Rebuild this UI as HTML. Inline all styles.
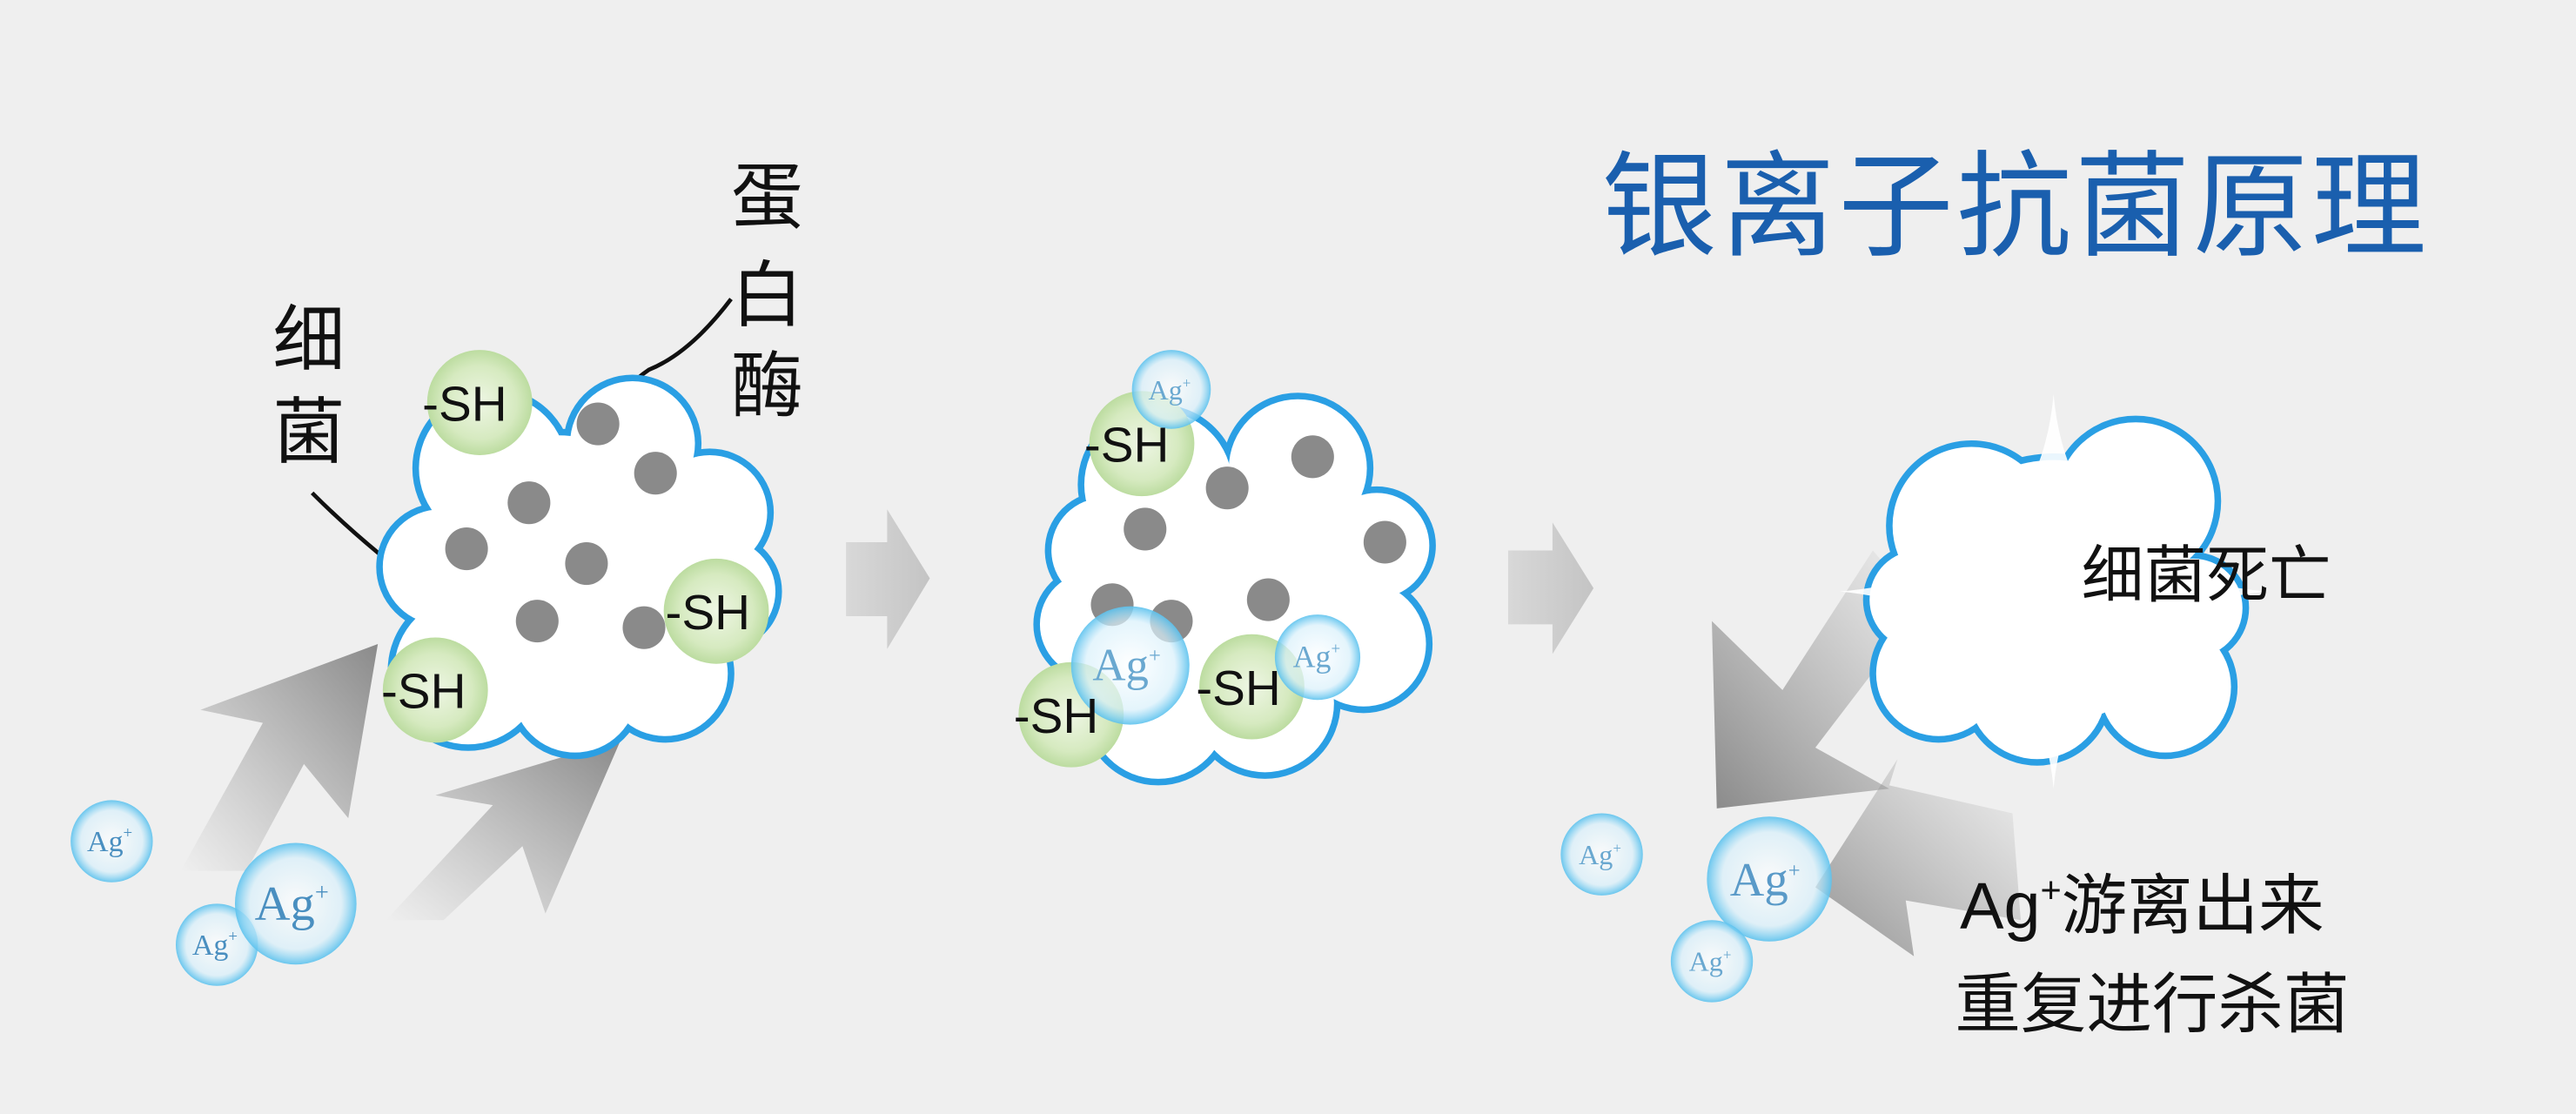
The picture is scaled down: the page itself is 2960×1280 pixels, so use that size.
<!DOCTYPE html>
<html><head><meta charset="utf-8"><style>
html,body{margin:0;padding:0;background:#efefef;}
svg{display:block}
text{font-family:"Liberation Sans","Noto Sans CJK SC",sans-serif;}
text.ag{font-family:"Liberation Serif",serif;}
</style></head><body>
<svg width="2960" height="1280" viewBox="0 0 1568 678" preserveAspectRatio="none" xmlns="http://www.w3.org/2000/svg">
<defs>
<radialGradient id="gr" cx="50%" cy="50%" r="50%"><stop offset="0" stop-color="#eef6e4"/><stop offset="0.7" stop-color="#d6eac0"/><stop offset="1" stop-color="#bcdca0"/></radialGradient>
<radialGradient id="ag" cx="50%" cy="50%" r="50%"><stop offset="0" stop-color="#ffffff" stop-opacity="0.7"/><stop offset="0.75" stop-color="#d8f0fb" stop-opacity="0.7"/><stop offset="1" stop-color="#5cc2ee" stop-opacity="0.9"/></radialGradient>
<linearGradient id="ga1" x1="0" y1="1" x2="1" y2="0"><stop offset="0" stop-color="#9a9a9a" stop-opacity="0"/><stop offset="1" stop-color="#8a8a8a"/></linearGradient>
<linearGradient id="ga2" x1="1" y1="0" x2="0" y2="1"><stop offset="0" stop-color="#9a9a9a" stop-opacity="0"/><stop offset="1" stop-color="#8a8a8a"/></linearGradient>
<linearGradient id="gc" x1="0" y1="0" x2="1" y2="0"><stop offset="0" stop-color="#d8d8d8"/><stop offset="1" stop-color="#c4c4c4"/></linearGradient>
</defs>
<rect width="1568" height="678" fill="#efefef"/>

<text x="975" y="150" font-size="70" fill="#1a5fae" letter-spacing="2">银离子抗菌原理</text>

<g font-size="44" fill="#111">
<text x="445" y="135">蛋</text><text x="445" y="195">白</text><text x="445" y="250">酶</text>
<text x="166" y="222">细</text><text x="166" y="278">菌</text>
</g>
<path d="M190,300 Q210,320 232,338" stroke="#111" stroke-width="2.5" fill="none"/>
<path d="M445,182 Q420,215 395,225 Q380,235 372,252" stroke="#111" stroke-width="2.5" fill="none"/>

<path d="M110,530 L160,440 L122,432 L230,392 L212,498 L185,465 L150,530 Z" fill="url(#ga1)"/>
<path d="M235,560 L300,490 L265,484 L378,450 L332,556 L318,515 L270,560 Z" fill="url(#ga1)"/>

<g stroke="#2a9fe4" stroke-width="8" fill="#2a9fe4">
<circle cx="300" cy="285" r="45"/><circle cx="385" cy="270" r="38"/><circle cx="432" cy="312" r="35"/><circle cx="440" cy="360" r="32"/><circle cx="405" cy="410" r="38"/><circle cx="350" cy="420" r="38"/><circle cx="285" cy="408" r="45"/><circle cx="268" cy="345" r="35"/><circle cx="340" cy="340" r="75"/>
</g>
<g fill="#fff">
<circle cx="300" cy="285" r="45"/><circle cx="385" cy="270" r="38"/><circle cx="432" cy="312" r="35"/><circle cx="440" cy="360" r="32"/><circle cx="405" cy="410" r="38"/><circle cx="350" cy="420" r="38"/><circle cx="285" cy="408" r="45"/><circle cx="268" cy="345" r="35"/><circle cx="340" cy="340" r="75"/>
</g>
<g fill="#8a8a8a">
<circle cx="364" cy="258" r="13"/><circle cx="399" cy="288" r="13"/><circle cx="322" cy="306" r="13"/><circle cx="284" cy="334" r="13"/><circle cx="357" cy="343" r="13"/><circle cx="327" cy="378" r="13"/><circle cx="392" cy="382" r="13"/>
</g>
<circle cx="292" cy="245" r="32" fill="url(#gr)"/>
<circle cx="436" cy="372" r="32" fill="url(#gr)"/>
<circle cx="265" cy="420" r="32" fill="url(#gr)"/>
<g font-size="30" fill="#111"><text x="257" y="256">-SH</text><text x="405" y="383">-SH</text><text x="232" y="431">-SH</text></g>

<circle cx="68" cy="512" r="25" fill="url(#ag)"/><text class="ag" x="53" y="518" font-size="18" fill="#4a8fc0">Ag<tspan font-size="10" dy="-8">+</tspan></text>
<circle cx="132" cy="575" r="25" fill="url(#ag)"/><text class="ag" x="117" y="581" font-size="18" fill="#4a8fc0">Ag<tspan font-size="10" dy="-8">+</tspan></text>
<circle cx="180" cy="550" r="37" fill="url(#ag)"/><text class="ag" x="155" y="560" font-size="30" fill="#4a8fc0">Ag<tspan font-size="15" dy="-12">+</tspan></text>

<path d="M515,330 L540,330 L540,310 L566,352 L540,395 L540,375 L515,375 Z" fill="url(#gc)"/>
<path d="M918,335 L945,335 L945,318 L970,358 L945,398 L945,380 L918,380 Z" fill="url(#gc)"/>

<g stroke="#2a9fe4" stroke-width="8" fill="#2a9fe4">
<circle cx="705" cy="295" r="45"/><circle cx="790" cy="285" r="42"/><circle cx="838" cy="332" r="32"/><circle cx="830" cy="392" r="38"/><circle cx="770" cy="428" r="42"/><circle cx="705" cy="432" r="42"/><circle cx="665" cy="380" r="32"/><circle cx="672" cy="335" r="32"/><circle cx="750" cy="358" r="75"/>
</g>
<g fill="#fff">
<circle cx="705" cy="295" r="45"/><circle cx="790" cy="285" r="42"/><circle cx="838" cy="332" r="32"/><circle cx="830" cy="392" r="38"/><circle cx="770" cy="428" r="42"/><circle cx="705" cy="432" r="42"/><circle cx="665" cy="380" r="32"/><circle cx="672" cy="335" r="32"/><circle cx="750" cy="358" r="75"/>
</g>
<g fill="#8a8a8a">
<circle cx="747" cy="297" r="13"/><circle cx="799" cy="278" r="13"/><circle cx="697" cy="322" r="13"/><circle cx="843" cy="330" r="13"/><circle cx="677" cy="368" r="13"/><circle cx="772" cy="365" r="13"/><circle cx="713" cy="378" r="13"/>
</g>
<circle cx="695" cy="270" r="32" fill="url(#gr)"/>
<circle cx="762" cy="418" r="32" fill="url(#gr)"/>
<circle cx="652" cy="435" r="32" fill="url(#gr)"/>
<circle cx="713" cy="237" r="24" fill="url(#ag)"/><text class="ag" x="699" y="243" font-size="17" fill="#6aa8d0">Ag<tspan font-size="9" dy="-7">+</tspan></text>
<circle cx="688" cy="405" r="36" fill="url(#ag)"/><text class="ag" x="665" y="414" font-size="28" fill="#6aa8d0">Ag<tspan font-size="13" dy="-11">+</tspan></text>
<circle cx="802" cy="400" r="26" fill="url(#ag)"/><text class="ag" x="787" y="406" font-size="19" fill="#6aa8d0">Ag<tspan font-size="10" dy="-8">+</tspan></text>
<g font-size="30" fill="#111"><text x="660" y="281">-SH</text><text x="728" y="429">-SH</text><text x="617" y="446">-SH</text></g>

<path d="M1140,335 L1085,420 L1042,378 L1045,492 L1150,480 L1105,455 L1170,370 Z" fill="url(#ga2)"/>
<path d="M1225,495 L1150,478 L1155,462 L1105,540 L1165,582 L1160,548 L1230,560 Z" fill="url(#ga2)" opacity="0.9"/>

<g stroke="#2a9fe4" stroke-width="8" fill="#2a9fe4">
<circle cx="1200" cy="320" r="48"/><circle cx="1300" cy="305" r="48"/><circle cx="1335" cy="370" r="30"/><circle cx="1318" cy="418" r="40"/><circle cx="1240" cy="420" r="42"/><circle cx="1180" cy="410" r="38"/><circle cx="1168" cy="365" r="30"/><circle cx="1250" cy="360" r="80"/>
</g>
<g fill="#fff">
<circle cx="1200" cy="320" r="48"/><circle cx="1300" cy="305" r="48"/><circle cx="1335" cy="370" r="30"/><circle cx="1318" cy="418" r="40"/><circle cx="1240" cy="420" r="42"/><circle cx="1180" cy="410" r="38"/><circle cx="1168" cy="365" r="30"/><circle cx="1250" cy="360" r="80"/>
</g>
<path d="M1250,240 Q1260,350 1380,360 Q1260,372 1250,480 Q1240,372 1120,360 Q1240,350 1250,240 Z" fill="#ffffff" opacity="0.9"/>
<text x="1267" y="363" font-size="38" fill="#111">细菌死亡</text>

<circle cx="975" cy="520" r="25" fill="url(#ag)"/><text class="ag" x="961" y="526" font-size="17" fill="#6aa8d0">Ag<tspan font-size="9" dy="-7">+</tspan></text>
<circle cx="1077" cy="535" r="38" fill="url(#ag)"/><text class="ag" x="1053" y="545" font-size="29" fill="#5a9ac8">Ag<tspan font-size="13" dy="-11">+</tspan></text>
<circle cx="1042" cy="585" r="25" fill="url(#ag)"/><text class="ag" x="1028" y="591" font-size="17" fill="#6aa8d0">Ag<tspan font-size="9" dy="-7">+</tspan></text>

<g font-size="40" fill="#111">
<text x="1193" y="565">Ag<tspan font-size="22" dy="-16">+</tspan><tspan dy="16">游离出来</tspan></text>
<text x="1190" y="625">重复进行杀菌</text>
</g>
</svg>
</body></html>
